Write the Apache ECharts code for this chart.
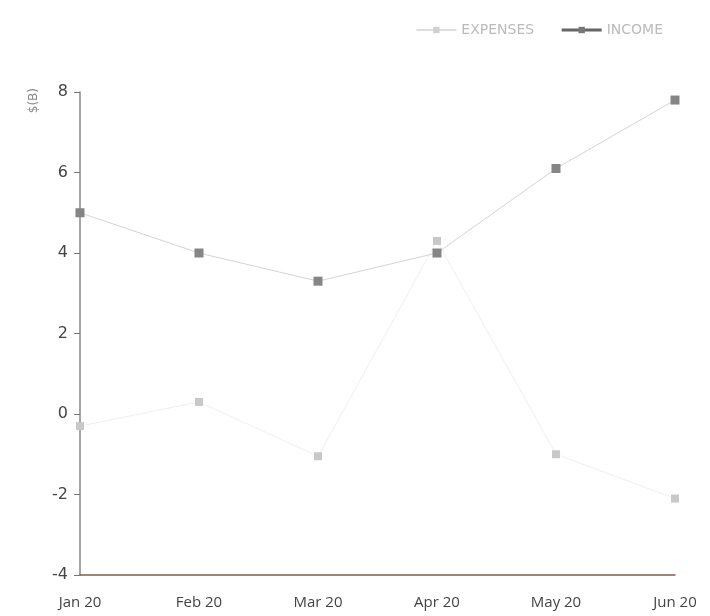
<!DOCTYPE html>
<html><head><meta charset="utf-8">
<script src="https://cdn.jsdelivr.net/npm/echarts@6/dist/echarts.min.js"></script>
<style>html,body{margin:0;padding:0;background:#fff}#c{width:710px;height:616px}</style>
</head><body><div id="c"></div>
<script>
var categories = ['Jan 20','Feb 20','Mar 20','Apr 20','May 20','Jun 20'];
var expenses = [-0.3, 0.3, -1.05, 4.3, -1.0, -2.1];
var income = [5.0, 4.0, 3.3, 4.0, 6.1, 7.8];
var yTicks = [-4, -2, 0, 2, 4, 6, 8];

var chart = echarts.init(document.getElementById('c'));
chart.setOption({
  animation: false,
  backgroundColor: '#fff',
  legend: {
    top: 18, right: 42, itemGap: 26, itemWidth: 40, itemHeight: 8,
    textStyle: {color: '#bbb', fontSize: 14, fontFamily: 'DejaVu Sans'},
    data: [
      {name: 'EXPENSES', itemStyle: {color: '#d0d0d0'}, lineStyle: {color: '#ddd', width: 2}},
      {name: 'INCOME', itemStyle: {color: '#777'}, lineStyle: {color: '#666', width: 3}}
    ]
  },
  graphic: [{
    type: 'text', left: 28, top: 88, rotation: Math.PI / 2,
    style: {text: '$(B)', fill: '#888', fontSize: 12, fontFamily: 'DejaVu Sans'}
  }],
  grid: {left: 80, right: 35, top: 92, bottom: 41},
  xAxis: {
    type: 'category', data: categories, boundaryGap: false,
    axisLine: {onZero: false, lineStyle: {color: '#8a5a4a', width: 1.5}},
    axisTick: {show: false},
    axisLabel: {color: '#444', fontSize: 15, fontFamily: 'Open Sans', margin: 20},
    splitLine: {show: false}
  },
  yAxis: {
    type: 'value', min: -4, max: 8, interval: 2,
    axisLine: {show: true, lineStyle: {color: '#888', width: 1.5}},
    axisTick: {show: true, length: 6, lineStyle: {color: '#777'}},
    axisLabel: {color: '#444', fontSize: 16, fontFamily: 'DejaVu Sans', margin: 12},
    splitLine: {show: false}
  },
  series: [
    {
      name: 'EXPENSES', type: 'line', data: expenses,
      symbol: 'rect', symbolSize: 8,
      lineStyle: {color: '#f0f0f0', width: 1},
      itemStyle: {color: '#c8c8c8'}
    },
    {
      name: 'INCOME', type: 'line', data: income,
      symbol: 'rect', symbolSize: 9,
      lineStyle: {color: '#d4d4d4', width: 1},
      itemStyle: {color: '#858585'}
    }
  ]
});
</script></body></html>
